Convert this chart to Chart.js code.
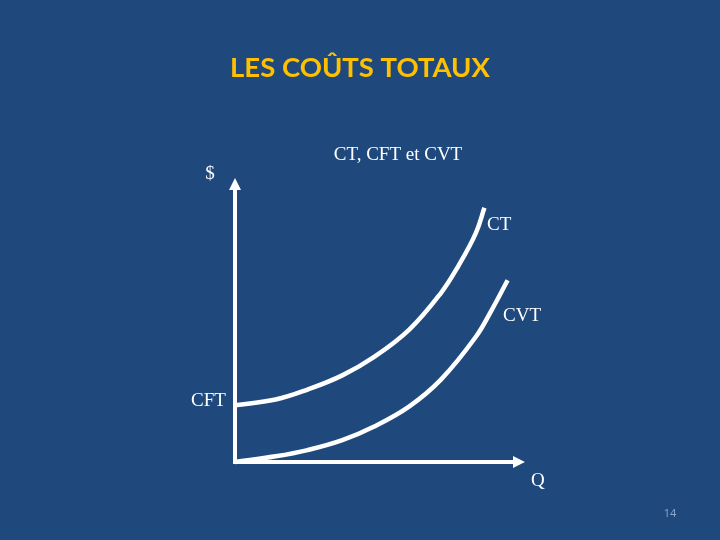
<!DOCTYPE html>
<html>
<head>
<meta charset="utf-8">
<script src="https://cdn.jsdelivr.net/npm/chart.js@4/dist/chart.umd.min.js"></script>
<style>
    html, body { margin: 0; padding: 0; background: #1F497D; }
    #wrap { position: relative; width: 720px; height: 540px; }
</style>
</head>
<body>
<div id="wrap"><canvas id="chart" width="720" height="540"></canvas></div>
<script>
// Data (arbitrary units 0..10 on both axes)
const qCT  = [0, 1.4, 2.5, 3.7, 4.8, 6.0, 7.1, 7.7, 8.3, 8.6];
const cCT  = [2.0, 2.2, 2.55, 3.05, 3.7, 4.65, 5.95, 6.9, 8.05, 8.95];
const qCVT = [0, 1.4, 2.5, 3.7, 4.8, 6.0, 7.1, 8.3, 8.85, 9.4];
const cCVT = [0, 0.2, 0.42, 0.77, 1.25, 1.95, 2.9, 4.4, 5.35, 6.4];

const toPoints = (xs, ys) => xs.map((x, i) => ({ x: x, y: ys[i] }));

// Axes with arrows + all slide texts
const slidePlugin = {
    id: 'slide',
    beforeDraw(chart) {
        const ctx = chart.ctx;
        ctx.save();
        ctx.fillStyle = '#1F497D';
        ctx.fillRect(0, 0, chart.width, chart.height);
        ctx.restore();
    },
    afterDraw(chart) {
        const ctx = chart.ctx;
        const xs = chart.scales.x, ys = chart.scales.y;
        const x0 = xs.getPixelForValue(0), x1 = xs.getPixelForValue(10);
        const y0 = ys.getPixelForValue(0), y1 = ys.getPixelForValue(10);

        ctx.save();
        ctx.strokeStyle = '#FFFFFF';
        ctx.fillStyle = '#FFFFFF';
        ctx.lineWidth = 4;
        ctx.lineCap = 'square';
        ctx.beginPath();
        ctx.moveTo(x0, y1 + 8);
        ctx.lineTo(x0, y0);
        ctx.lineTo(x1 - 8, y0);
        ctx.stroke();
        // arrow heads
        ctx.beginPath();
        ctx.moveTo(x0, y1);
        ctx.lineTo(x0 - 6, y1 + 12);
        ctx.lineTo(x0 + 6, y1 + 12);
        ctx.closePath();
        ctx.fill();
        ctx.beginPath();
        ctx.moveTo(x1, y0);
        ctx.lineTo(x1 - 12, y0 - 6);
        ctx.lineTo(x1 - 12, y0 + 6);
        ctx.closePath();
        ctx.fill();

        // title
        ctx.textAlign = 'center';
        ctx.textBaseline = 'middle';
        ctx.fillStyle = '#FFC000';
        ctx.font = 'bold 27.5px Lato';
        ctx.fillText('LES COÛTS TOTAUX', 360, 68);

        // serif labels
        ctx.fillStyle = '#FFFFFF';
        ctx.font = '19px "Liberation Serif"';
        ctx.fillText('CT, CFT et CVT', 398, 155);
        ctx.fillText('$', 210, 174);
        ctx.textAlign = 'left';
        ctx.fillText('CT', 487, 225);
        ctx.fillText('CVT', 503, 316);
        ctx.fillText('CFT', 191, 401);
        ctx.fillText('Q', 531, 481);

        // slide number
        ctx.textAlign = 'center';
        ctx.fillStyle = '#8FA8CC';
        ctx.font = '11px "Open Sans"';
        ctx.fillText('14', 670, 514);
        ctx.restore();
    }
};

new Chart(document.getElementById('chart').getContext('2d'), {
    type: 'line',
    data: {
        datasets: [
            {
                label: 'CT',
                data: toPoints(qCT, cCT),
                borderColor: '#FFFFFF',
                borderWidth: 4.5,
                pointRadius: 0,
                tension: 0.4,
                clip: false
            },
            {
                label: 'CVT',
                data: toPoints(qCVT, cCVT),
                borderColor: '#FFFFFF',
                borderWidth: 4.5,
                pointRadius: 0,
                tension: 0.4,
                clip: false
            }
        ]
    },
    options: {
        responsive: false,
        animation: false,
        layout: { padding: { left: 235, right: 195, top: 178, bottom: 78 } },
        plugins: {
            legend: { display: false },
            tooltip: { enabled: false }
        },
        scales: {
            x: { type: 'linear', min: 0, max: 10, display: false },
            y: { type: 'linear', min: 0, max: 10, display: false }
        }
    },
    plugins: [slidePlugin]
});
</script>
</body>
</html>
